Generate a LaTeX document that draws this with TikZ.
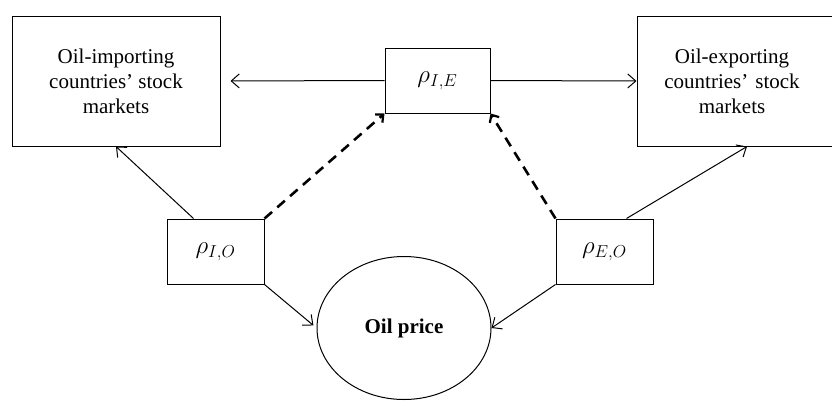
\documentclass[tikz,border=0pt]{standalone}
\usepackage{fontspec}
\setmainfont{Liberation Serif}
\usetikzlibrary{arrows.meta,shapes.geometric}
\begin{document}
\begin{tikzpicture}[x=1pt,y=-1pt,
  box/.style={draw,line width=1pt,rectangle,inner sep=0pt,align=center,font=\fontsize{21}{25}\selectfont},
  rbox/.style={box,minimum width=97pt,minimum height=65pt,font=\fontsize{23}{27}\selectfont},
  conn/.style={line width=1pt,-{Straight Barb[length=8pt,width=14pt]}},
  dconn/.style={line width=2.6pt,dash pattern=on 10pt off 7pt,-{Straight Barb[length=6pt,width=11pt,line width=2.2pt]}}]
\useasboundingbox (0,0) rectangle (832,400);
\node[box,minimum width=208pt,minimum height=130pt] (L) at (116,81) {Oil-importing\\countries’ stock\\markets};
\node[box,minimum width=200pt,minimum height=130pt,text width=190pt] (R) at (737,81) {\hspace*{-10pt}Oil-exporting\\\hspace*{-10pt}countries’ stock\\\hspace*{-10pt}markets};
\node[rbox,minimum width=105pt] (IE) at (437.5,80.5) {$\rho_{I,E}$};
\node[rbox] (IO) at (215.5,251.5) {$\rho_{I,O}$};
\node[rbox] (EO) at (604.5,251.5) {$\rho_{E,O}$};
\node[draw,line width=1pt,ellipse,inner sep=0pt,minimum width=174pt,minimum height=143pt,font=\fontsize{21}{25}\selectfont\bfseries] (O) at (404,328) {Oil price};
\draw[conn,shorten >=10pt] (IE.west) -- (L.east);
\draw[conn] (IE.east) -- (R.west);
\draw[conn] ([xshift=-22pt]IO.north) -- (L.south);
\draw[conn] ([xshift=22pt]EO.north) -- ([xshift=10pt]R.south);
\draw[dconn] (IO.north east) -- (IE.south west);
\draw[dconn] (EO.north west) -- (IE.south east);
\draw[conn,shorten >=4pt] (IO.south east) -- (O.west);
\draw[conn] (EO.south west) -- (O.east);
\end{tikzpicture}
\end{document}
